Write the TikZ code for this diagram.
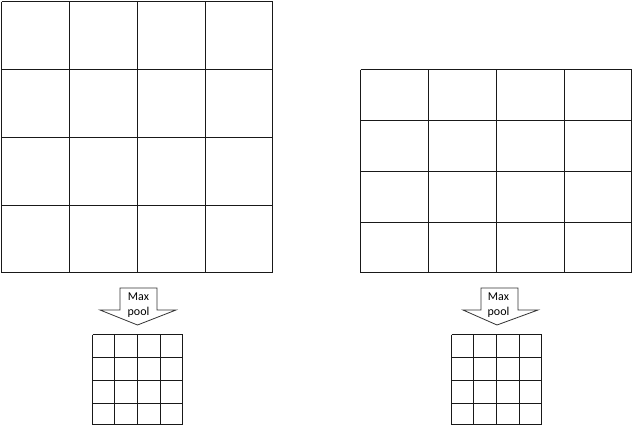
\documentclass[tikz,border=0pt]{standalone}
\usepackage{fontspec}
\setmainfont{Carlito}
\begin{document}
\begin{tikzpicture}[x=1pt,y=-1pt,
  gridline/.style={line width=1.3pt,draw=black!90},
  arrowshape/.style={line width=0.8pt,draw=black!80,fill=white},
  lbl/.style={font=\fontsize{12}{15.5}\selectfont,align=center,inner sep=0pt}]
\useasboundingbox (0,0) rectangle (633,426);
% left big grid
\foreach \x in {1.5,69.5,137.5,205.5,272.5} \draw[gridline] (\x,1.5) -- (\x,272.5);
\foreach \y in {1.5,69.5,137.5,205.5,272.5} \draw[gridline] (1.5,\y) -- (272.5,\y);
% right big grid
\foreach \x in {360.5,428.5,496.5,564.5,631.5} \draw[gridline] (\x,69.5) -- (\x,272.5);
\foreach \y in {69.5,120.5,171.5,222.5,272.5} \draw[gridline] (360.5,\y) -- (631.5,\y);
% small grids
\foreach \ox in {92.5,451.5}{
  \foreach \dx in {0,22,45,68,90} \draw[gridline] (\ox+\dx,334.5) -- (\ox+\dx,424.5);
  \foreach \dy in {0,23,46,69,90} \draw[gridline] (\ox,334.5+\dy) -- (\ox+90,334.5+\dy);
}
% arrows
\draw[arrowshape] (120,288) -- (157,288) -- (157,310) -- (176,310) -- (137.5,325) -- (100,310) -- (120,310) -- cycle;
\node[lbl] (lmax) at (138.5,305) {Max\\pool};
\draw[arrowshape] (481,288) -- (518,288) -- (518,310) -- (538,310) -- (497,325) -- (463,310) -- (481,310) -- cycle;
\node[lbl] (rmax) at (498.5,305) {Max\\pool};
\end{tikzpicture}
\end{document}
